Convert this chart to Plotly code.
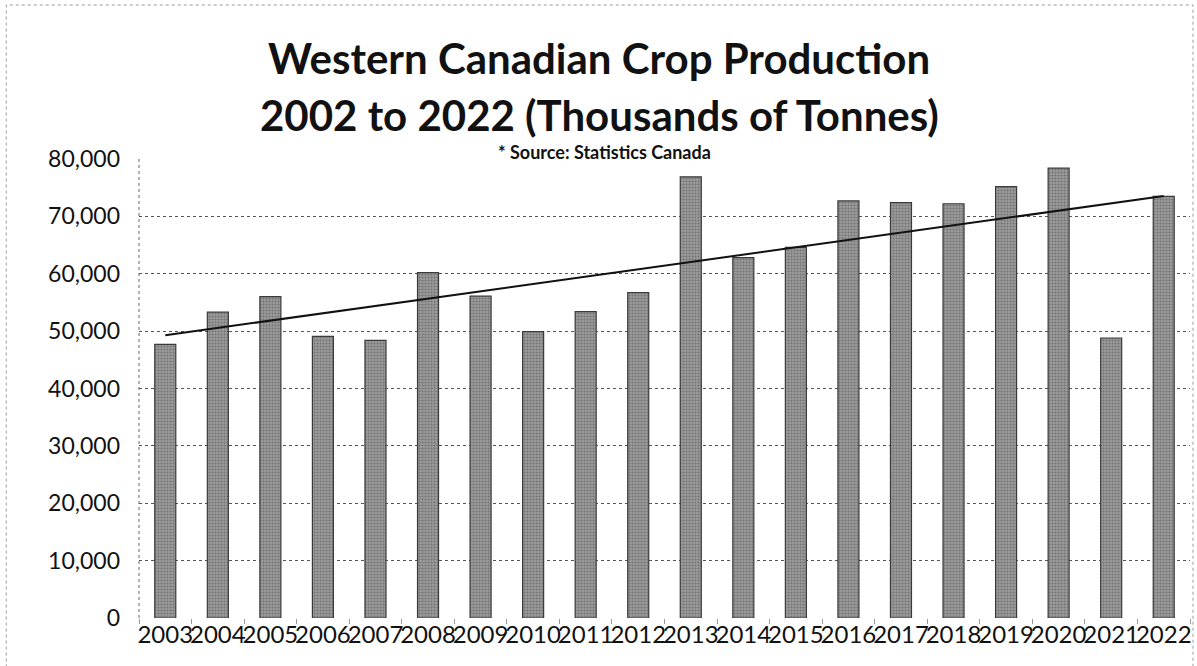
import numpy as np
import plotly.graph_objects as go

years = [str(y) for y in range(2003, 2023)]
production = [47700, 53300, 56000, 49100, 48400, 60200, 56100, 49900, 53400, 56700,
              76900, 62800, 64600, 72700, 72400, 72200, 75200, 78400, 48800, 73500]
y_ticks = [0, 10000, 20000, 30000, 40000, 50000, 60000, 70000, 80000]

title_lines = ["Western Canadian Crop Production", "2002 to 2022 (Thousands of Tonnes)"]
source_note = "* Source: Statistics Canada"

# Linear trendline (as Excel would add)
idx = np.arange(len(production))
slope, intercept = np.polyfit(idx, production, 1)
trend = list(slope * idx + intercept)

W, H = 1197, 666
L, R, T, B = 139, 5, 159, 48
pw, ph = W - L - R, H - T - B

def px_x(px):
    return (px - L) / pw

def px_y(py):
    return (H - B - py) / ph

fig = go.Figure()
fig.add_trace(go.Bar(
    x=years, y=production,
    marker=dict(color="#8a8a8a", line=dict(color="#3a3a3a", width=1.2),
                pattern=dict(shape=".", fgcolor="#4a4a4a", bgcolor="#9c9c9c", size=3, solidity=0.4)),
    showlegend=False,
))
fig.add_trace(go.Scatter(
    x=years, y=trend, mode="lines",
    line=dict(color="#111111", width=2), showlegend=False,
))

title_annots = [
    dict(text="<b>" + line + "</b>", xref="paper", yref="paper",
         x=px_x(600), y=px_y(yc), xanchor="center", yanchor="middle",
         showarrow=False, font=dict(family="Lato", size=42, color="#111111"))
    for line, yc in zip(title_lines, [58, 115])
]

fig.update_layout(
    width=W, height=H,
    margin=dict(l=L, r=R, t=T, b=B),
    paper_bgcolor="white", plot_bgcolor="white",
    bargap=0.6,
    font=dict(family="Lato, 'Open Sans', sans-serif", color="#111111"),
    annotations=title_annots + [dict(
        text="<b>" + source_note + "</b>", xref="paper", yref="paper",
        x=px_x(605), y=px_y(152), xanchor="center", yanchor="middle",
        showarrow=False, font=dict(family="Lato", size=18, color="#111111"),
    )],
    shapes=[
        dict(type="rect", xref="paper", yref="paper", x0=px_x(6), x1=px_x(1195),
             y0=px_y(680), y1=px_y(5), line=dict(color="#9a9a9a", width=1, dash="dot")),
        dict(type="line", xref="paper", yref="paper", x0=0, x1=0, y0=0, y1=1,
             line=dict(color="#666666", width=1, dash="dot")),
    ],
)
fig.update_xaxes(
    type="category", tickangle=0,
    tickfont=dict(family="Lato", size=24, color="#111111"),
    ticks="outside", ticklen=5, tickcolor="#999999", tickson="boundaries",
    showline=False, showgrid=False,
)
fig.update_yaxes(
    range=[0, 80000], tickvals=y_ticks, tickformat=",",
    tickfont=dict(family="Lato", size=23, color="#111111"),
    ticks="", ticklabelstandoff=18,
    showgrid=True, gridcolor="#555555", gridwidth=1, griddash="dot",
    showline=False, zeroline=False,
)
fig.write_html("out.html", config={"displayModeBar": False},
               post_script="document.body.style.margin='0';")
